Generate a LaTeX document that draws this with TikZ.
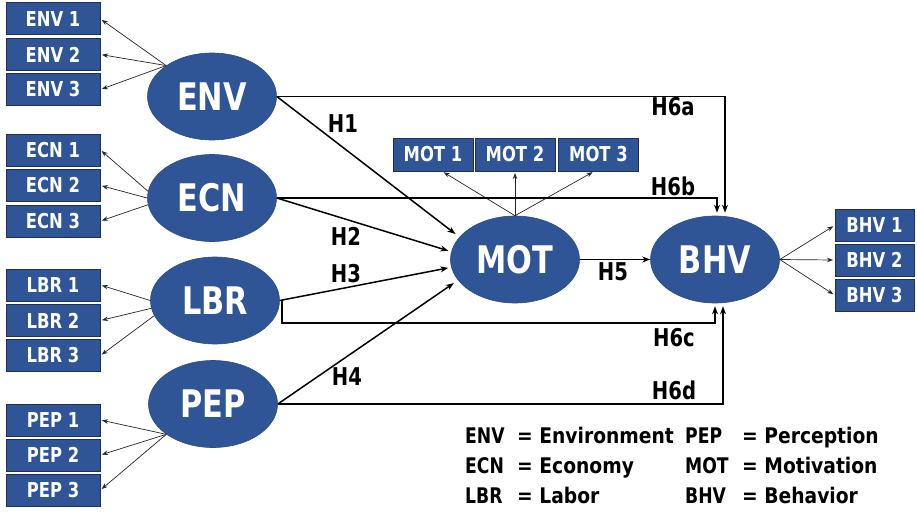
\documentclass[tikz,border=0pt]{standalone}
\usepackage{fontspec}
\setmainfont{DejaVu Sans}
\newfontfamily\capsfont[FakeStretch=0.8]{DejaVu Sans}
\newfontfamily\legfont[FakeStretch=0.87]{DejaVu Sans}
\usetikzlibrary{shapes.geometric,arrows.meta}
\definecolor{nodeblue}{HTML}{2F5597}
\definecolor{boxedge}{HTML}{1F3050}
\begin{document}
\begin{tikzpicture}[x=1pt,y=-1pt,
 latent/.style={ellipse, fill=nodeblue, draw=nodeblue!90!black, line width=0.6pt,
   minimum width=129pt, minimum height=87pt, inner sep=0pt, text=white,
   font=\capsfont\bfseries\fontsize{38}{40}\selectfont},
 indbox/.style={rectangle, fill=nodeblue, draw=boxedge, line width=1pt,
   minimum width=94pt, minimum height=32pt, inner sep=0pt, text=white,
   font=\capsfont\bfseries\fontsize{20.5}{22}\selectfont},
 motbox/.style={indbox, minimum width=80pt, minimum height=33pt},
 bhvbox/.style={indbox, minimum width=79pt, minimum height=32pt},
 load/.style={draw=black!85, line width=0.7pt, -{Stealth[length=6pt,width=4.5pt]}, shorten >=1.5pt},
 structarrow/.style={draw=black, line width=1.5pt, -{Stealth[length=8pt,width=6pt]}},
 hlab/.style={font=\capsfont\bfseries\fontsize{24.5}{26}\selectfont, text=black, inner sep=0pt},
 legabbr/.style={font=\capsfont\bfseries\fontsize{21.5}{23}\selectfont, anchor=base west, inner sep=0pt},
 legtext/.style={font=\legfont\bfseries\fontsize{21.5}{23}\selectfont, anchor=base west, inner sep=0pt}
]
\useasboundingbox[fill=white] (0,0) rectangle (917,511);

% latent variables
\node[latent] (ENV) at (212,96.5) {ENV};
\node[latent] (ECN) at (212,198) {ECN};
\node[latent] (LBR) at (215,300.5) {LBR};
\node[latent] (PEP) at (213,404) {PEP};
\node[latent] (MOT) at (515,259.5) {MOT};
\node[latent] (BHV) at (715,259.5) {BHV};

% indicator boxes
\node[indbox] (ENV1) at (53,19) {ENV 1};
\node[indbox] (ENV2) at (53,54.5) {ENV 2};
\node[indbox] (ENV3) at (53,89.5) {ENV 3};
\node[indbox] (ECN1) at (53,150) {ECN 1};
\node[indbox] (ECN2) at (53,185.5) {ECN 2};
\node[indbox] (ECN3) at (53,221) {ECN 3};
\node[indbox] (LBR1) at (53,285) {LBR 1};
\node[indbox] (LBR2) at (53,320.5) {LBR 2};
\node[indbox] (LBR3) at (53,355.5) {LBR 3};
\node[indbox] (PEP1) at (53,420) {PEP 1};
\node[indbox] (PEP2) at (53,455) {PEP 2};
\node[indbox] (PEP3) at (53,490) {PEP 3};
\node[motbox] (MOT1) at (433,154.5) {MOT 1};
\node[motbox] (MOT2) at (515,154.5) {MOT 2};
\node[motbox] (MOT3) at (598.5,154.5) {MOT 3};
\node[bhvbox] (BHV1) at (874.5,225.5) {BHV 1};
\node[bhvbox] (BHV2) at (874.5,260) {BHV 2};
\node[bhvbox] (BHV3) at (874.5,295) {BHV 3};

% loadings
\draw[load] (ENV.146) -- (ENV1.east);
\draw[load] (ENV.146) -- (ENV2.east);
\draw[load] (ENV.146) -- (ENV3.east);
\draw[load] (ECN.174) -- (ECN1.east);
\draw[load] (ECN.180) -- (ECN2.east);
\draw[load] (ECN.186) -- (ECN3.east);
\draw[load] (LBR.180) -- (LBR1.east);
\draw[load] (LBR.187) -- (LBR2.east);
\draw[load] (LBR.194) -- (LBR3.east);
\draw[load] (PEP.213) -- (PEP1.east);
\draw[load] (PEP.213) -- (PEP2.east);
\draw[load] (PEP.213) -- (PEP3.east);
\draw[load] (MOT.north) -- (MOT1.-61);
\draw[load] (MOT.north) -- (MOT2.south);
\draw[load] (MOT.north) -- (MOT3.-105);
\draw[load] (BHV.east) -- (BHV1.west);
\draw[load] (BHV.east) -- (BHV2.west);
\draw[load] (BHV.east) -- (BHV3.west);

% structural paths
\draw[structarrow, shorten >=5pt] (ENV.east) -- (MOT.158);
\draw[structarrow, shorten >=3pt] (ECN.east) -- (MOT.173);
\draw[structarrow, shorten >=3pt] (LBR.east) -- (MOT.187);
\draw[structarrow, shorten >=5pt] (PEP.east) -- (MOT.200);
\draw[structarrow] (MOT.east) -- (BHV.west);
\draw[structarrow, shorten >=3pt] (ENV.east) -| ([xshift=10pt]BHV.north);
\draw[structarrow, shorten >=3pt] (ECN.east) -| ([xshift=2pt]BHV.north);
\coordinate (c6c) at (715,323);
\draw[structarrow, shorten >=3pt] (LBR.east) -- ++(2,0) |- (c6c) -- (BHV.south);
\draw[structarrow, shorten >=3pt] (PEP.east) -| ([xshift=8pt]BHV.south);

% path labels
\node[hlab] (H1) at (343,124) {H1};
\node[hlab] (H2) at (346,236) {H2};
\node[hlab] (H3) at (346,274) {H3};
\node[hlab] (H4) at (347,377) {H4};
\node[hlab] (H5) at (613,272) {H5};
\node[hlab] (H6a) at (673,107) {H6a};
\node[hlab] (H6b) at (673,186) {H6b};
\node[hlab] (H6c) at (674,338) {H6c};
\node[hlab] (H6d) at (674,390) {H6d};

% legend
\node[legabbr] (lENV) at (465,443) {ENV};
\node[legtext] (dENV) at (517,443) {= Environment};
\node[legabbr] (lECN) at (465,473) {ECN};
\node[legtext] (dECN) at (517,473) {= Economy};
\node[legabbr] (lLBR) at (465,503) {LBR};
\node[legtext] (dLBR) at (517,503) {= Labor};
\node[legabbr] (lPEP) at (685,443) {PEP};
\node[legtext] (dPEP) at (742,443) {= Perception};
\node[legabbr] (lMOT) at (685,473) {MOT};
\node[legtext] (dMOT) at (742,473) {= Motivation};
\node[legabbr] (lBHV) at (685,503) {BHV};
\node[legtext] (dBHV) at (742,503) {= Behavior};
\end{tikzpicture}
\end{document}
